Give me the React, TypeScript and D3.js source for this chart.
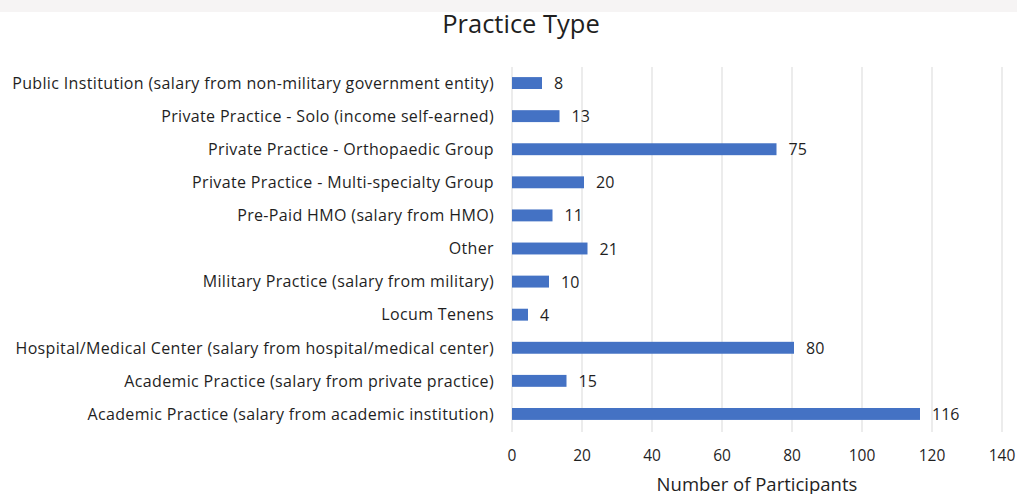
import * as d3 from 'd3';
import React, { useEffect, useRef } from 'react';

const categories = [
	'Public Institution (salary from non-military government entity)',
	'Private Practice - Solo (income self-earned)',
	'Private Practice - Orthopaedic Group',
	'Private Practice - Multi-specialty Group',
	'Pre-Paid HMO (salary from HMO)',
	'Other',
	'Military Practice (salary from military)',
	'Locum Tenens',
	'Hospital/Medical Center (salary from hospital/medical center)',
	'Academic Practice (salary from private practice)',
	'Academic Practice (salary from academic institution)',
];
const participants = [8, 13, 75, 20, 11, 21, 10, 4, 80, 15, 116];
const xTicks = [0, 20, 40, 60, 80, 100, 120, 140];

const FONT = '"Open Sans", Lato, sans-serif';
const INK = '#1f1f1f';

export default function App(): React.JSX.Element {
	const ref = useRef<SVGSVGElement | null>(null);

	useEffect(() => {
		if (ref.current === null) return;
		const width = 1017;
		const height = 494;
		const svg = d3.select(ref.current);
		svg.selectAll('*').remove();
		svg.attr('width', width).attr('height', height);

		svg.append('rect').attr('width', width).attr('height', height).attr('fill', '#ffffff');
		svg.append('rect').attr('width', width).attr('height', 12).attr('fill', '#f6f4f4');

		const x = d3.scaleLinear().domain([0, 140]).range([512, 1002]);
		const y = d3.scaleBand()
			.domain(categories)
			.range([66.5, 430.5])
			.paddingInner(0.64)
			.paddingOuter(0.32);

		const grid = svg.append('g');
		grid.selectAll('line')
			.data(xTicks)
			.enter()
			.append('line')
			.attr('x1', (d) => x(d))
			.attr('x2', (d) => x(d))
			.attr('y1', 67)
			.attr('y2', 432)
			.attr('stroke', '#d9d9d9')
			.attr('stroke-width', 1);

		svg.selectAll('rect.bar')
			.data(categories)
			.enter()
			.append('rect')
			.attr('class', 'bar')
			.attr('x', x(0))
			.attr('y', (c) => y(c) ?? 0)
			.attr('width', (_, i) => x(participants[i]) - x(0) + 2)
			.attr('height', y.bandwidth())
			.attr('fill', '#4472c4');

		svg.selectAll('text.value')
			.data(categories)
			.enter()
			.append('text')
			.attr('class', 'value')
			.attr('x', (_, i) => x(participants[i]) + 14)
			.attr('y', (c) => (y(c) ?? 0) + y.bandwidth() / 2)
			.attr('dy', '0.38em')
			.attr('font-family', FONT)
			.attr('font-size', 16)
			.attr('fill', INK)
			.text((_, i) => participants[i]);

		svg.selectAll('text.cat')
			.data(categories)
			.enter()
			.append('text')
			.attr('class', 'cat')
			.attr('x', 494)
			.attr('y', (c) => (y(c) ?? 0) + y.bandwidth() / 2)
			.attr('dy', '0.36em')
			.attr('text-anchor', 'end')
			.attr('font-family', FONT)
			.attr('font-size', 16)
			.attr('letter-spacing', 0.35)
			.attr('fill', INK)
			.text((c) => c);

		svg.selectAll('text.tick')
			.data(xTicks)
			.enter()
			.append('text')
			.attr('class', 'tick')
			.attr('x', (d) => x(d))
			.attr('y', 455)
			.attr('dy', '0.36em')
			.attr('text-anchor', 'middle')
			.attr('font-family', FONT)
			.attr('font-size', 15.5)
			.attr('fill', INK)
			.text((d) => d);

		svg.append('text')
			.attr('x', 757)
			.attr('y', 491)
			.attr('text-anchor', 'middle')
			.attr('font-family', FONT)
			.attr('font-size', 18.5)
			.attr('fill', INK)
			.text('Number of Participants');

		svg.append('text')
			.attr('x', 521)
			.attr('y', 33)
			.attr('text-anchor', 'middle')
			.attr('font-family', FONT)
			.attr('font-size', 25.5)
			.attr('fill', INK)
			.text('Practice Type');
	}, []);

	return <svg ref={ref} style={{ position: 'absolute', left: 0, top: 0 }} />;
}
